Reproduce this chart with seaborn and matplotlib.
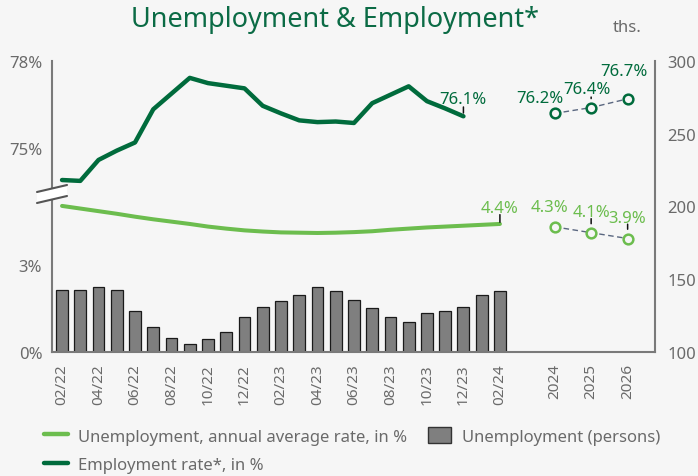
import numpy as np
import pandas as pd
import matplotlib
matplotlib.use("Agg")
import matplotlib.pyplot as plt
import seaborn as sns
from matplotlib.lines import Line2D
from matplotlib.patches import Patch, Polygon

# ---------------- data ----------------
months = ["02/22", "03/22", "04/22", "05/22", "06/22", "07/22", "08/22", "09/22",
          "10/22", "11/22", "12/22", "01/23", "02/23", "03/23", "04/23", "05/23",
          "06/23", "07/23", "08/23", "09/23", "10/23", "11/23", "12/23", "01/24",
          "02/24"]
unemp_persons = [142.8, 142.8, 144.7, 142.8, 127.9, 116.9, 109.8, 105.5, 108.9,
                 113.7, 123.8, 130.7, 135.0, 138.9, 144.7, 141.9, 135.7, 130.0,
                 123.8, 120.8, 126.8, 128.2, 130.7, 138.9, 141.9]
unemp_rate = [5.02, 4.93, 4.84, 4.75, 4.65, 4.56, 4.48, 4.40, 4.31, 4.24, 4.18,
              4.14, 4.11, 4.10, 4.09, 4.10, 4.12, 4.15, 4.20, 4.24, 4.28, 4.31,
              4.34, 4.37, 4.40]
emp_rate = [73.91, 73.88, 74.60, 74.92, 75.20, 76.34, 76.88, 77.42, 77.24, 77.15,
            77.06, 76.46, 76.20, 75.96, 75.90, 75.92, 75.87, 76.55, 76.84, 77.13,
            76.62, 76.37, 76.10]
years = ["2024", "2025", "2026"]
emp_fc = [76.2, 76.4, 76.7]
unemp_fc = [4.3, 4.1, 3.9]

# ---------------- style ----------------
BG = "#f6f6f6"
DARK = "#006b3c"
LIGHT = "#6cbd4e"
TITLE_C = "#0b6b45"
TICK_C = "#6a6a6a"
SPINE_C = "#7a7a7a"
BAR_C = "#7f7f7f"
DASH_C = "#5a6780"

sns.set_theme(style="white")
plt.rcParams["font.family"] = ["Noto Sans", "DejaVu Sans"]

W, H = 698, 477
fig = plt.figure(figsize=(W / 100, H / 100), dpi=100, facecolor=BG)
ax = fig.add_axes([52 / W, 1 - 353 / H, 603 / W, 291 / H])
ax2 = ax.twinx()
ax.set_zorder(2)
ax2.set_zorder(1)
ax.patch.set_visible(False)
ax2.patch.set_visible(False)

# broken left scale: unemployment (0..~5.5) below, employment (73..78) above
def fwd(y):
    y = np.asarray(y, dtype=float)
    return np.where(y > 40, y - 68, y)

def inv(u):
    u = np.asarray(u, dtype=float)
    return np.where(u > 5.45, u + 68, u)

ax.set_yscale("function", functions=(fwd, inv))

# bars (right axis, thousands)
df_bar = pd.DataFrame({"pos": np.arange(len(months)), "persons": unemp_persons})
sns.barplot(data=df_bar, x="pos", y="persons", native_scale=True, ax=ax2,
            color=BAR_C, saturation=1, edgecolor="#1a1a1a", linewidth=0.9,
            width=0.65)

# lines
sns.lineplot(x=np.arange(len(unemp_rate)), y=unemp_rate, ax=ax, color=LIGHT,
             lw=2.9, solid_capstyle="round")
sns.lineplot(x=np.arange(len(emp_rate)), y=emp_rate, ax=ax, color=DARK,
             lw=3.2, solid_capstyle="round", solid_joinstyle="round")

fc_pos = [27, 29, 31]
for vals, col in ((emp_fc, DARK), (unemp_fc, LIGHT)):
    ax.plot(fc_pos, vals, ls=(0, (4, 2.5)), color=DASH_C, lw=1.0, zorder=3)
    ax.plot(fc_pos, vals, ls="none", marker="o", ms=7, mfc=BG, mec=col,
            mew=1.8, zorder=4)

# value labels: (x, value, colour, dx px, baseline px above point, leader (top, bottom) px)
PX = 72 / 100
labels = [
    (len(emp_rate) - 1, emp_rate[-1], DARK, -1, 13.3, (9.3, 3.3)),
    (fc_pos[0], emp_fc[0], DARK, -15, 11.6, None),
    (fc_pos[1], emp_fc[1], DARK, -4, 14.4, (10.5, 9.0)),
    (fc_pos[2], emp_fc[2], DARK, -4, 24.3, None),
    (len(unemp_rate) - 1, unemp_rate[-1], LIGHT, 0, 12.3, (9.3, 1.7)),
    (fc_pos[0], unemp_fc[0], LIGHT, -5.3, 16.3, None),
    (fc_pos[1], unemp_fc[1], LIGHT, 0, 16.6, (14.0, 9.0)),
    (fc_pos[2], unemp_fc[2], LIGHT, 0, 17.0, (14.3, 9.3)),
]
for x, v, col, dx, dy, lead in labels:
    ax.annotate(f"{v:.1f}%", xy=(x, v), xytext=(dx * PX, dy * PX),
                textcoords="offset points", ha="center", va="baseline",
                color=col, fontsize=12, zorder=6)
    if lead:
        ax.annotate("", xy=(x, v), xytext=(0, lead[0] * PX),
                    textcoords="offset points",
                    arrowprops=dict(arrowstyle="-", color="#111111", lw=1.1,
                                    shrinkA=0, shrinkB=lead[1] * PX))

# axes limits and ticks
ax.set_xlim(-0.55, 32.5)
ax.set_ylim(0, 78)
ax2.set_ylim(100, 300)
ax.set_yticks([0, 3, 75, 78])
ax.set_yticklabels(["0%", "3%", "75%", "78%"])
ax2.set_yticks([100, 150, 200, 250, 300])
xt = list(range(0, len(months), 2)) + fc_pos
ax.set_xticks(xt)
ax.set_xticklabels(months[::2] + years, rotation=90)
ax.minorticks_off()
ax.tick_params(axis="x", length=0, pad=8, labelsize=11, colors=TICK_C)
ax.tick_params(axis="y", length=0, pad=7, labelsize=12, colors=TICK_C)
ax2.tick_params(axis="y", length=0, pad=9, labelsize=12, colors=TICK_C)
ax.set_xlabel("")
ax.set_ylabel("")
ax2.set_xlabel("")
ax2.set_ylabel("")

for s in ("top", "right"):
    ax.spines[s].set_visible(False)
for s in ("left", "bottom"):
    ax.spines[s].set_color(SPINE_C)
    ax.spines[s].set_linewidth(1.5)
for s in ("top", "left", "bottom"):
    ax2.spines[s].set_visible(False)
ax2.spines["right"].set_color(SPINE_C)
ax2.spines["right"].set_linewidth(1.5)

# axis break mark
def to_ax(px, py):
    return ((px - 52) / 603, (353 - py) / 291)

poly = Polygon([to_ax(37, 193), to_ax(67, 186), to_ax(67, 197), to_ax(37, 204)],
               closed=True, transform=ax.transAxes, facecolor="white",
               edgecolor="none", clip_on=False, zorder=10)
ax.add_patch(poly)
for (a, b) in ((to_ax(37, 193), to_ax(67, 186)), (to_ax(37, 204), to_ax(67, 197))):
    ax.add_line(Line2D([a[0], b[0]], [a[1], b[1]], transform=ax.transAxes,
                       color="#555555", lw=1.5, clip_on=False, zorder=11))

# title and unit
fig.text(335 / W, 1 - 20 / H, "Unemployment & Employment*", ha="center",
         va="center", fontsize=19.5, color=TITLE_C)
fig.text(627 / W, 1 - 28 / H, "ths.", ha="center", va="center", fontsize=12,
         color=TICK_C)

# legend
handles = [Line2D([], [], color=LIGHT, lw=3.2),
           Line2D([], [], color=DARK, lw=3.2),
           Patch(facecolor=BAR_C, edgecolor="#333333", linewidth=1.0)]
lbls = ["Unemployment, annual average rate, in %", "Employment rate*, in %",
        "Unemployment (persons)"]
fig.legend(handles, lbls, ncol=2, loc="upper left",
           bbox_to_anchor=(36 / W, 1 - 420 / H), frameon=False, fontsize=12,
           handlelength=1.4, handleheight=1.1, handletextpad=0.65,
           columnspacing=1.2, labelspacing=0.65, borderpad=0, labelcolor=TICK_C)

fig.savefig("out.png", dpi=100, facecolor=BG)
